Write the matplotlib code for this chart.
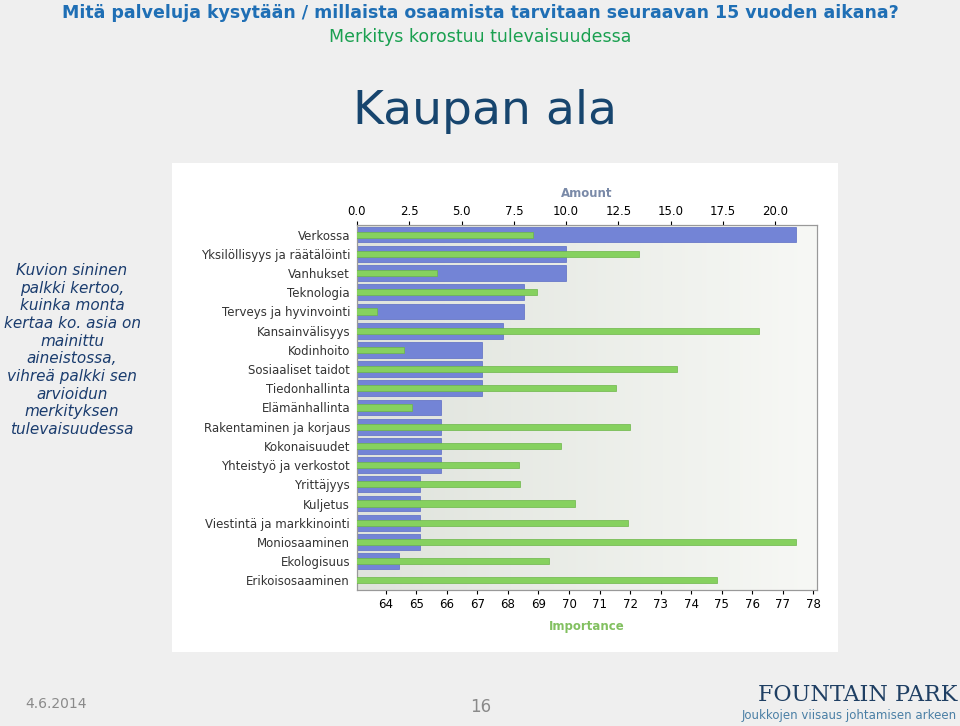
import numpy as np
import matplotlib.pyplot as plt
from matplotlib.colors import LinearSegmentedColormap

categories = ["Verkossa", "Yksilöllisyys ja räätälöinti", "Vanhukset", "Teknologia",
              "Terveys ja hyvinvointi", "Kansainvälisyys", "Kodinhoito",
              "Sosiaaliset taidot", "Tiedonhallinta", "Elämänhallinta",
              "Rakentaminen ja korjaus", "Kokonaisuudet", "Yhteistyö ja verkostot",
              "Yrittäjyys", "Kuljetus", "Viestintä ja markkinointi",
              "Moniosaaminen", "Ekologisuus", "Erikoisosaaminen"]
amount = [21, 10, 10, 8, 8, 7, 6, 6, 6, 4, 4, 4, 4, 3, 3, 3, 3, 2, 0]
importance = [68.82, 72.28, 65.67, 68.95, 63.73, 76.22, 64.6, 73.53, 71.53, 64.86,
              72.0, 69.73, 68.37, 68.4, 70.2, 71.93, 77.43, 69.33, 74.85]
amount_ticks = [0, 2.5, 5, 7.5, 10, 12.5, 15, 17.5, 20]
amount_labels = ["0.0", "2.5", "5.0", "7.5", "10.0", "12.5", "15.0", "17.5", "20.0"]
imp_ticks = list(range(64, 79))

bg = "#efefef"
fig = plt.figure(figsize=(9.6, 7.26), dpi=100, facecolor=bg)

# white chart panel, drawn as its own axes under the chart
panel = fig.add_axes([172 / 960, 1 - 652 / 726, 666 / 960, 489 / 726], zorder=0)
panel.set_facecolor("white")
panel.set_xticks([])
panel.set_yticks([])
for s in panel.spines.values():
    s.set_visible(False)

fig.text(0.5, 1 - 13 / 726, "Mitä palveluja kysytään / millaista osaamista tarvitaan seuraavan 15 vuoden aikana?",
         ha="center", va="center", fontsize=12.5, fontweight="bold", color="#1f6fb5")
fig.text(0.5, 1 - 37 / 726, "Merkitys korostuu tulevaisuudessa", ha="center", va="center",
         fontsize=12.5, color="#1aa050")
fig.text(485 / 960, 1 - 111 / 726, "Kaupan ala", ha="center", va="center",
         fontsize=34, color="#17456e")
fig.text(72 / 960, 1 - 350 / 726,
         "Kuvion sininen\npalkki kertoo,\nkuinka monta\nkertaa ko. asia on\nmainittu\naineistossa,\nvihreä palkki sen\narvioidun\nmerkityksen\ntulevaisuudessa",
         ha="center", va="center", fontsize=11, style="italic", color="#1a3c6e",
         linespacing=1.22)
fig.text(25 / 960, 1 - 704 / 726, "4.6.2014", ha="left", va="center", fontsize=10, color="#8a8a8a")
fig.text(481 / 960, 1 - 707 / 726, "16", ha="center", va="center", fontsize=12, color="#8a8a8a")
fig.text(957 / 960, 1 - 695 / 726, "FOUNTAIN PARK", ha="right", va="center", fontsize=16,
         family="DejaVu Serif", color="#1f3f63")
fig.text(957 / 960, 1 - 716 / 726, "Joukkojen viisaus johtamisen arkeen", ha="right",
         va="center", fontsize=8.5, color="#4a7fa5")

ax = fig.add_axes([357 / 960, 1 - 590 / 726, 460 / 960, 365 / 726], zorder=1)
ax2 = ax.twiny()
n = len(categories)
y = np.arange(n)

# gradient background
grad = np.linspace(0, 1, 256).reshape(1, -1)
ax.imshow(grad, extent=[0, 22, n - 0.5, -0.5], aspect="auto",
          cmap=LinearSegmentedColormap.from_list("g", ["#dfe3dc", "#f7f8f5"]), zorder=0)
ax.barh(y, amount, height=0.82, color="#7384d6", edgecolor="#5b6cc4", linewidth=0.5, zorder=2)
ax.set_xlim(0, 22)
ax.set_ylim(n - 0.5, -0.5)
ax.set_yticks(y)
ax.set_yticklabels(categories, fontsize=8.5, color="#333333")
ax.tick_params(axis="y", length=0, pad=5)

ax2.barh(y, importance, height=0.32, color="#86d15f", edgecolor="#6cb648", linewidth=0.5, zorder=3)
ax2.set_xlim(63.06, 78.12)
ax2.set_ylim(n - 0.5, -0.5)
ax2.patch.set_visible(False)

# amount scale on top, importance scale at the bottom
ax.xaxis.tick_top()
ax.xaxis.set_label_position("top")
ax.set_xticks(amount_ticks)
ax.set_xticklabels(amount_labels, fontsize=8.5)
ax.set_xlabel("Amount", fontsize=8.5, fontweight="bold", color="#7a8aa8", labelpad=6)
ax.tick_params(axis="x", length=3, pad=2)

ax2.xaxis.tick_bottom()
ax2.xaxis.set_label_position("bottom")
ax2.set_xticks(imp_ticks)
ax2.tick_params(axis="x", labelsize=8.5, length=3, pad=3)
ax2.set_xlabel("Importance", fontsize=8.5, fontweight="bold", color="#82c060", labelpad=6)

for a in (ax, ax2):
    for s in a.spines.values():
        s.set_color("#999999")

fig.savefig("out.png", dpi=100, facecolor=bg)
